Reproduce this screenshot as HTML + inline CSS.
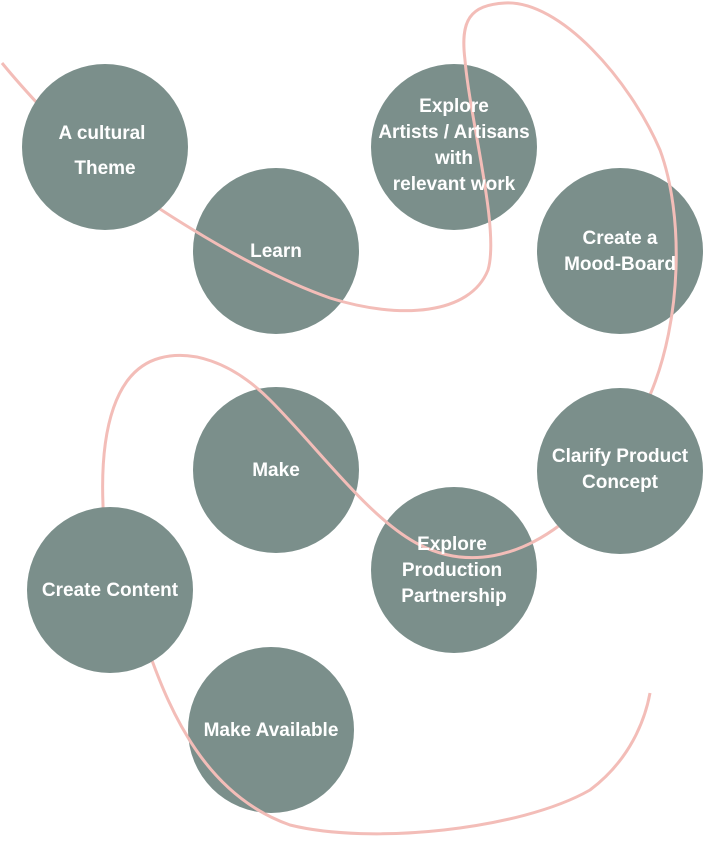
<!DOCTYPE html>
<html><head><style>
body{margin:0;background:#fff;}
svg text{font-family:"Liberation Sans",sans-serif;font-weight:bold;font-size:19px;fill:#fff;text-anchor:middle;}
</style></head><body>
<svg width="704" height="838" xmlns="http://www.w3.org/2000/svg">
<defs>
<path id="p" d="M2,63 C20,85 60,130 105,170 C150,205 250,270 330,298 C400,320 470,315 488,270 C500,230 470,120 465,60 C460,20 470,5 505,3 C560,0 630,80 660,150 C684,215 682,320 650,395 C630,450 600,500 560,525 C520,555 470,570 420,545 C370,520 320,450 270,400 C230,360 190,350 160,358 C115,370 100,430 103,505 C105,570 120,600 150,655 C170,710 205,795 290,825 C370,845 520,830 590,790 C630,760 645,720 650,693" fill="none" stroke="#f3bdb8" stroke-width="3"/>
<clipPath id="c">
<circle cx="276" cy="251" r="83"/>
<circle cx="454" cy="147" r="83"/>
<circle cx="620" cy="251" r="83"/>
<circle cx="454" cy="570" r="83"/>
<circle cx="276" cy="470" r="83"/>
<circle cx="271" cy="730" r="83"/>
</clipPath>
</defs>
<use href="#p"/>
<g fill="#7b8f8b">
<circle cx="105" cy="147" r="83"/>
<circle cx="620" cy="471" r="83"/>
<circle cx="110" cy="590" r="83"/>
<circle cx="276" cy="251" r="83"/>
<circle cx="454" cy="147" r="83"/>
<circle cx="620" cy="251" r="83"/>
<circle cx="454" cy="570" r="83"/>
<circle cx="276" cy="470" r="83"/>
<circle cx="271" cy="730" r="83"/>
</g>
<g clip-path="url(#c)"><use href="#p"/></g>
<text x="102" y="139">A cultural</text>
<text x="105" y="174">Theme</text>
<text x="276" y="257">Learn</text>
<text x="454" y="112">Explore</text>
<text x="454" y="138">Artists / Artisans</text>
<text x="454" y="164">with</text>
<text x="454" y="190">relevant work</text>
<text x="620" y="244">Create a</text>
<text x="620" y="270">Mood-Board</text>
<text x="620" y="462">Clarify Product</text>
<text x="620" y="488">Concept</text>
<text x="276" y="476">Make</text>
<text x="452" y="550">Explore</text>
<text x="452" y="576">Production</text>
<text x="454" y="602">Partnership</text>
<text x="110" y="596">Create Content</text>
<text x="271" y="736">Make Available</text>
</svg>
</body></html>
